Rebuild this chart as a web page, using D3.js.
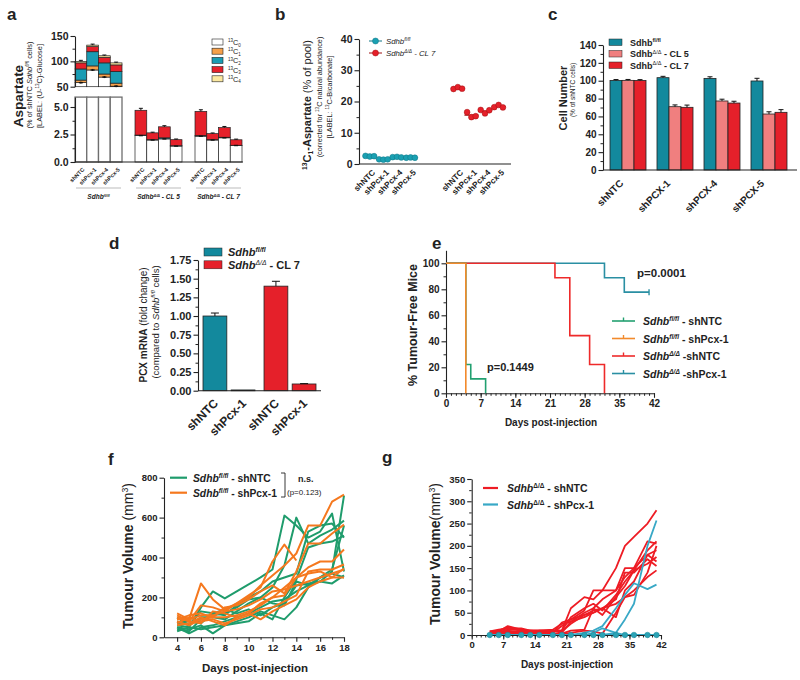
<!DOCTYPE html>
<html><head><meta charset="utf-8">
<script src="https://cdn.jsdelivr.net/npm/d3@7"></script>
<style>
body{margin:0;background:#fff;}
svg text{fill:#222;}
</style></head><body>
<svg id="fig" width="800" height="680"></svg>
<script>
// ================= DATA =================
// Panel a : Aspartate isotopologues (% of shNTC Sdhb fl/fl)
const aGroups = ["fl/fl", "CL 5", "CL 7"];
const aCats = ["shNTC", "shPcx-1", "shPcx-4", "shPcx-5"];
const aIso = ["0", "1", "2", "3", "4"];
const aBarGroup = ["fl/fl","fl/fl","fl/fl","fl/fl","CL 5","CL 5","CL 5","CL 5","CL 7","CL 7","CL 7","CL 7"];
const aBarCat = ["shNTC","shPcx-1","shPcx-4","shPcx-5","shNTC","shPcx-1","shPcx-4","shPcx-5","shNTC","shPcx-1","shPcx-4","shPcx-5"];
const aC0 = [58, 83, 69, 51, 2.40, 2.00, 2.10, 1.45, 2.35, 2.00, 2.20, 1.50];
const aC1 = [5, 8, 6, 6, 0, 0, 0, 0, 0, 0, 0, 0];
const aC2 = [22, 28, 22, 23, 0.05, 0.03, 0.10, 0.03, 0.05, 0.03, 0.05, 0.02];
const aC3 = [12, 10, 11, 13, 2.25, 0.62, 1.00, 0.55, 2.20, 0.55, 0.88, 0.50];
const aC4 = [3, 3, 3, 4, 0, 0, 0, 0, 0, 0, 0, 0];
const aErrC0 = [2, 2, 2, 2, 0.05, 0.05, 0.06, 0.05, 0.05, 0.05, 0.05, 0.05];
const aErrTop = [2, 2, 1.5, 1.5, 0.18, 0.06, 0.10, 0.06, 0.15, 0.06, 0.10, 0.06];
const aTicksUp = [50, 100, 150];
const aTicksLo = [0, 2.5, 5];

// Panel b : 13C1-Aspartate (% of pool), triplicates
const bGroups = ["fl/fl", "CL 7"];
const bCats = ["shNTC", "shPcx-1", "shPcx-4", "shPcx-5"];
const bFl = [[2.6, 2.4, 2.5], [1.5, 1.4, 1.5], [2.2, 2.3, 2.1], [2.0, 2.1, 2.0]];
const bCL7 = [[24.0, 24.6, 24.1], [16.6, 15.0, 15.3], [17.3, 16.2, 17.2], [18.2, 18.9, 18.1]];
const bTicks = [0, 10, 20, 30, 40];

// Panel c : Cell number (% of shNTC cells)
const cCats = ["shNTC", "shPCX-1", "shPCX-4", "shPCX-5"];
const cSeries = ["fl", "cl5", "cl7"];
const cFl = [100.3, 103.4, 102.6, 99.7];
const cCL5 = [100.4, 70.9, 77.3, 62.7];
const cCL7 = [100.2, 70.2, 75.0, 64.6];
const cFlErr = [1.0, 1.5, 1.8, 3.0];
const cCL5Err = [1.0, 2.0, 2.0, 2.5];
const cCL7Err = [1.0, 2.5, 2.0, 3.0];
const cTicks = [0, 20, 40, 60, 80, 100, 120, 140];

// Panel d : PCX mRNA fold change
const dGroups = ["fl/fl", "CL 7"];
const dCats = ["shNTC", "shPcx-1"];
const dFl = [1.00, 0.01];
const dCL7 = [1.40, 0.09];
const dFlErr = [0.04, 0.003];
const dCL7Err = [0.065, 0.005];
const dTicks = [0, 0.25, 0.5, 0.75, 1.0, 1.25, 1.5, 1.75];

// Panel e : % tumour-free mice (Kaplan-Meier steps)
const eFlNTCDays = [0, 4, 5, 8];
const eFlNTCPct = [100, 22.2, 11.1, 0];
const eFlPcxDays = [0, 4];
const eFlPcxPct = [100, 0];
const eDdNTCDays = [0, 22, 25, 29, 32];
const eDdNTCPct = [100, 88.9, 44.4, 22.2, 0];
const eDdPcxDays = [0, 32, 36, 41];
const eDdPcxPct = [100, 88.9, 77.8, 77.8];
const eTicksX = [0, 7, 14, 21, 28, 35, 42];
const eTicksY = [0, 20, 40, 60, 80, 100];

// Panel f : tumour volume, Sdhb fl/fl
const fDays = [4, 5, 6, 7, 8, 9, 10, 11, 12, 13, 14, 15, 16, 17, 18];
const fNTC = [
  [60, 50, 150, 230, 195, 230, 265, 300, 340, 610, 560, 500, 530, 620, 330],
  [40, 30, 90, 110, 120, 150, 190, 200, 250, 360, 600, 470, 510, 540, 585],
  [50, 40, 60, 20, 60, 80, 100, 130, 110, 90, 150, 250, 300, 340, 560],
  [80, 60, 100, 100, 90, 130, 170, 200, 170, 160, 280, 260, 280, 330, 710],
  [30, 50, 40, 50, 60, 70, 80, 120, 90, 200, 290, 450, 470, 480, 510],
  [70, 80, 70, 120, 140, 120, 140, 110, 150, 170, 260, 270, 280, 270, 310],
  [50, 20, 50, 60, 80, 100, 120, 150, 180, 190, 230, 260, 300, 320, 300],
  [100, 60, 130, 120, 110, 160, 200, 230, 280, 300, 320, 530, 560, 570, 500]
];
const fPcx = [
  [120, 90, 270, 190, 140, 170, 210, 250, 380, 465, 385, null, null, null, null],
  [100, 80, 160, 150, 130, 170, 200, 260, 310, 360, 420, 560, 560, 680, 715],
  [90, 110, 120, 100, 150, 160, 190, 230, 260, 220, 330, 470, 470, 520, 565],
  [80, 60, 90, 100, 100, 110, 130, 160, 200, 210, 300, 350, 380, 380, 440],
  [70, 100, 80, 90, 70, 90, 110, 140, 150, 180, 210, 330, 340, 340, 365],
  [110, 80, 70, 130, 120, 100, 120, 90, 130, 160, 190, 250, 280, 300, 345],
  [60, 70, 100, 80, 60, 100, 120, 170, 200, 250, 300, 320, 330, 300, 300],
  [90, 90, 110, 110, 130, 140, 160, 190, 230, 240, 260, 280, 300, 320, 340]
];
const fTicksX = [4, 6, 8, 10, 12, 14, 16, 18];
const fTicksY = [0, 200, 400, 600, 800];

// Panel g : tumour volume, Sdhb Δ/Δ
const gDays = [4, 6, 8, 11, 13, 15, 18, 20, 22, 25, 27, 29, 32, 34, 36, 39, 41];
const gNTC = [
  [5, 10, 15, 10, 8, 8, 10, 10, 60, 85, 80, 100, 150, 200, 220, 250, 280],
  [8, 8, 20, 12, 10, 10, 12, 25, 30, 50, 60, 80, 100, 150, 150, 210, 205],
  [3, 10, 18, 10, 10, 8, 5, 28, 35, 55, 100, 100, 100, 130, 150, 180, 190],
  [5, 5, 12, 12, 5, 10, 10, 10, 40, 60, 70, 55, 90, 120, 145, 160, 175],
  [0, 5, 8, 8, 8, 5, 5, 20, 35, 45, 55, 60, 80, 140, 140, 170, 155],
  [5, 8, 10, 5, 10, 10, 8, 8, 25, 45, 50, 60, 70, 85, 100, 130, 145],
  [8, 12, 15, 15, 10, 10, 10, 5, 30, 40, 50, 60, 40, 100, 120, 180, 165],
  [5, 5, 5, 3, 3, 3, 3, 2, 5, 10, 8, 3, 50, 85, 90, 140, 200],
  [0, 3, 5, 5, 5, 5, 3, 3, 10, 12, 60, 45, 85, 110, 145, 190, 210]
];
const gPcx = [
  [0, 0, 0, 0, 0, 0, 0, 0, 0, 0, 0, 0, 5, 35, 70, 200, 257],
  [0, 0, 0, 0, 0, 0, 0, 0, 0, 5, 10, 20, 60, 90, 116, 103, 113],
  [0, 0, 0, 0, 0, 0, 0, 0, 0, 0, 5, 15, 5, 0, 0, 0, 0],
  [0, 0, 0, 0, 0, 0, 0, 0, 0, 0, 0, 0, 0, 0, 0, 0, 0]
];
const gTicksX = [0, 7, 14, 21, 28, 35, 42];
const gTicksY = [0, 50, 100, 150, 200, 250, 300, 350];

// ================= DRAWING =================
const FONT = "'Liberation Sans', Arial, Helvetica, sans-serif";
const svg = d3.select("#fig").attr("font-family", FONT);
const TEAL = "#13899d", RED = "#e5202a", SALMON = "#f07f7f";

function rich(sel, parts, fs) {
  let off = 0;
  parts.forEach(p => {
    const t = p[0], st = p[1] || "";
    let target = 0, size = fs;
    if (st.includes("^")) { target = -fs * 0.38; size = fs * 0.62; }
    if (st.includes("_")) { target = fs * 0.22; size = fs * 0.62; }
    sel.append("tspan").text(t)
      .attr("dy", (target - off).toFixed(2))
      .attr("font-size", size.toFixed(2))
      .attr("font-weight", st.includes("B") ? "bold" : "normal")
      .attr("font-style", st.includes("I") ? "italic" : "normal");
    off = target;
  });
  return sel;
}
function label(g, x, y, parts, fs, anchor, rot) {
  const t = g.append("text")
    .attr("transform", `translate(${x},${y})` + (rot ? ` rotate(${rot})` : ""))
    .attr("text-anchor", anchor || "start");
  return rich(t, parts, fs);
}
function styleAxis(a, fs) {
  a.attr("font-family", FONT);
  a.selectAll("text").attr("font-size", fs).attr("font-weight", "bold").attr("fill", "#222");
  a.selectAll("line,path").attr("stroke", "#222").attr("stroke-width", 1.1);
}
function axisL(g, scale, x, major, fmt, fs, minor) {
  if (minor) {
    const m = g.append("g").attr("transform", `translate(${x},0)`)
      .call(d3.axisLeft(scale).tickValues(minor).tickFormat("").tickSize(2.5).tickSizeOuter(0));
    m.select(".domain").remove();
    m.selectAll("line").attr("stroke", "#222");
  }
  const a = g.append("g").attr("transform", `translate(${x},0)`)
    .call(d3.axisLeft(scale).tickValues(major).tickFormat(fmt).tickSize(4.5).tickSizeOuter(0).tickPadding(2));
  styleAxis(a, fs);
  return a;
}
function axisB(g, scale, y, major, fmt, fs, minor) {
  if (minor) {
    const m = g.append("g").attr("transform", `translate(0,${y})`)
      .call(d3.axisBottom(scale).tickValues(minor).tickFormat("").tickSize(2.5).tickSizeOuter(0));
    m.select(".domain").remove();
    m.selectAll("line").attr("stroke", "#222");
  }
  const a = g.append("g").attr("transform", `translate(0,${y})`)
    .call(d3.axisBottom(scale).tickValues(major).tickFormat(fmt).tickSize(4.5).tickSizeOuter(0).tickPadding(2));
  styleAxis(a, fs);
  return a;
}
function hline(g, x1, x2, y) {
  g.append("line").attr("x1", x1).attr("x2", x2).attr("y1", y).attr("y2", y)
    .attr("stroke", "#222").attr("stroke-width", 1.1);
}
function errUp(g, cx, yTop, yErr, cap) {
  g.append("line").attr("x1", cx).attr("x2", cx).attr("y1", yTop).attr("y2", yErr).attr("stroke", "#111").attr("stroke-width", 1);
  g.append("line").attr("x1", cx - cap).attr("x2", cx + cap).attr("y1", yErr).attr("y2", yErr).attr("stroke", "#111").attr("stroke-width", 1);
}

// panel letters
[["a", 7, 20], ["b", 275, 20], ["c", 548, 20], ["d", 109, 249], ["e", 432, 249], ["f", 108, 465], ["g", 382, 463]]
  .forEach(([t, x, y]) => svg.append("text").attr("x", x).attr("y", y).attr("font-size", 17).attr("font-weight", "bold").text(t));

// ---------- Panel a ----------
(function () {
  const g = svg.append("g");
  const xG = d3.scaleBand().domain(aGroups).range([75, 242]).paddingInner(13 / 60);
  const xB = d3.scaleBand().domain(aCats).range([0, xG.bandwidth()]);
  const yUp = d3.scaleLinear().domain([50, 150]).range([86.7, 36]);
  const yLo = d3.scaleLinear().domain([0, 5.9]).range([162, 97.1]);
  const segs = [aC0, aC1, aC2, aC3, aC4];
  const cols = ["#ffffff", "#f6a04a", "#1a9cb3", RED, "#fbe8a0"];
  const w = xB.bandwidth();
  aBarGroup.forEach((grp, k) => {
    const x = xG(grp) + xB(aBarCat[k]);
    let cum = 0;
    if (grp === aGroups[0]) {
      g.append("rect").attr("x", x).attr("y", yLo(5.9)).attr("width", w).attr("height", yLo(0) - yLo(5.9))
        .attr("fill", "#fff").attr("stroke", "#6e6e6e").attr("stroke-width", 1.3);
      segs.forEach((s, si) => {
        const lo = Math.max(cum, 50), hi = cum + s[k];
        cum = hi;
        if (hi > 50 && s[k] > 0)
          g.append("rect").attr("x", x).attr("y", yUp(hi)).attr("width", w).attr("height", yUp(lo) - yUp(hi))
            .attr("fill", cols[si]).attr("stroke", "#222").attr("stroke-width", 0.7);
      });
      const c0 = aC0[k];
      g.append("line").attr("x1", x + w / 2).attr("x2", x + w / 2).attr("y1", yUp(c0 - aErrC0[k])).attr("y2", yUp(c0 + aErrC0[k])).attr("stroke", "#111").attr("stroke-width", 1);
      g.append("line").attr("x1", x + w / 2 - 2).attr("x2", x + w / 2 + 2).attr("y1", yUp(c0)).attr("y2", yUp(c0)).attr("stroke", "#111").attr("stroke-width", 1.4);
      errUp(g, x + w / 2, yUp(cum), yUp(cum + aErrTop[k]), 2);
    } else {
      segs.forEach((s, si) => {
        const lo = cum, hi = cum + s[k];
        cum = hi;
        if (s[k] > 0)
          g.append("rect").attr("x", x).attr("y", yLo(hi)).attr("width", w).attr("height", yLo(lo) - yLo(hi))
            .attr("fill", cols[si]).attr("stroke", "#222").attr("stroke-width", 0.7);
      });
      const c0 = aC0[k];
      g.append("line").attr("x1", x + w / 2 - 2).attr("x2", x + w / 2 + 2).attr("y1", yLo(c0)).attr("y2", yLo(c0)).attr("stroke", "#111").attr("stroke-width", 1.4);
      errUp(g, x + w / 2, yLo(cum), yLo(cum + aErrTop[k]), 2);
    }
    label(g, x + w / 2 + 4, 170, [[aBarCat[k], "B"]], 5.6, "end", -45);
  });
  axisL(g, yUp, 75, aTicksUp, d3.format("d"), 10.5, [75, 125]);
  axisL(g, yLo, 75, aTicksLo, d3.format(".1f"), 10.5, [1.25, 3.75]);
  hline(g, 75, 243, 162);
  const gLab = [
    [["Sdhb", "BI"], ["fl/fl", "BI^"]],
    [["Sdhb", "BI"], ["Δ/Δ", "BI^"], [" - CL 5", "BI"]],
    [["Sdhb", "BI"], ["Δ/Δ", "BI^"], [" - CL 7", "BI"]]
  ];
  aGroups.forEach((grp, i) => {
    g.append("line").attr("x1", xG(grp) + 1).attr("x2", xG(grp) + xG.bandwidth() - 1).attr("y1", 188).attr("y2", 188)
      .attr("stroke", "#aaa").attr("stroke-width", 0.8);
    label(g, xG(grp) + xG.bandwidth() / 2, 199, gLab[i], 6.5, "middle");
  });
  aIso.forEach((iso, i) => {
    const y = 39 + i * 9.2;
    g.append("rect").attr("x", 212).attr("y", y).attr("width", 11).attr("height", 6)
      .attr("fill", cols[i]).attr("stroke", "#222").attr("stroke-width", 0.6);
    label(g, 228, y + 6, [["13", "^"], ["C"], [iso, "_"]], 7.3, "start");
  });
  label(g, 23, 96, [["Aspartate", "B"]], 13.5, "middle", -90);
  label(g, 32, 85, [["(% of shNTC "], ["Sdhb", "I"], ["fl/fl", "I^"], [" cells)"]], 7.4, "middle", -90);
  label(g, 42, 86, [["[LABEL: (U-"], ["13", "^"], ["C)-Glucose]"]], 7.4, "middle", -90);
})();

// ---------- Panel b ----------
(function () {
  const g = svg.append("g");
  const y = d3.scaleLinear().domain([0, 40]).range([164, 39]);
  const xG = d3.scaleBand().domain(bGroups).range([363, 505.4]).paddingInner(0.382);
  const xC = d3.scaleBand().domain(bCats).range([0, xG.bandwidth()]);
  axisL(g, y, 359, bTicks, d3.format("d"), 10.5, [5, 15, 25, 35]);
  hline(g, 359, 511, 164);
  const sets = [[bFl, "#1aa0b2", "#0f7585"], [bCL7, RED, "#a01010"]];
  sets.forEach(([reps, col, dark], gi) => {
    bCats.forEach((cat, ci) => {
      const cx = xG(bGroups[gi]) + xC(cat) + xC.bandwidth() / 2;
      const m = d3.mean(reps[ci]);
      g.append("line").attr("x1", cx - 7).attr("x2", cx + 7).attr("y1", y(m)).attr("y2", y(m)).attr("stroke", dark).attr("stroke-width", 1.2);
      reps[ci].forEach((v, j) => {
        g.append("circle").attr("cx", cx + (j - 1) * 4.3).attr("cy", y(v)).attr("r", 2.9)
          .attr("fill", col).attr("stroke", dark).attr("stroke-width", 0.5);
      });
      label(g, cx + 6, 173, [[cat, "B"]], 8.2, "end", -45);
    });
  });
  const legs = [
    [[["Sdhb", "I"], ["fl/fl", "I^"]], "#1aa0b2", "#0f7585"],
    [[["Sdhb", "I"], ["Δ/Δ", "I^"], [" - CL 7", "I"]], RED, "#a01010"]
  ];
  legs.forEach(([parts, col, dark], i) => {
    const yy = 41 + i * 12;
    g.append("line").attr("x1", 369).attr("x2", 382).attr("y1", yy).attr("y2", yy).attr("stroke", dark).attr("stroke-width", 1);
    g.append("circle").attr("cx", 375.5).attr("cy", yy).attr("r", 3).attr("fill", col).attr("stroke", dark).attr("stroke-width", 0.5);
    label(g, 386, yy + 3, parts, 7.8, "start");
  });
  label(g, 311, 105, [["13", "B^"], ["C", "B"], ["1", "B_"], ["-Aspartate", "B"], [" (% of pool)"]], 11, "middle", -90);
  label(g, 322, 97, [["(corrected for "], ["13", "^"], ["C natural abundance)"]], 7.3, "middle", -90);
  label(g, 332, 97, [["[LABEL: "], ["13", "^"], ["C-Bicarbonate]"]], 7.3, "middle", -90);
})();

// ---------- Panel c ----------
(function () {
  const g = svg.append("g");
  const y = d3.scaleLinear().domain([0, 140]).range([170, 45]);
  const xG = d3.scaleBand().domain(cCats).range([603, 794]).paddingInner(0.234).paddingOuter(0.149);
  const xS = d3.scaleBand().domain(cSeries).range([0, xG.bandwidth()]);
  const vals = [cFl, cCL5, cCL7], errs = [cFlErr, cCL5Err, cCL7Err], cols = [TEAL, SALMON, RED];
  cSeries.forEach((s, si) => {
    cCats.forEach((cat, ci) => {
      const x = xG(cat) + xS(s), w = xS.bandwidth(), v = vals[si][ci];
      g.append("rect").attr("x", x).attr("y", y(v)).attr("width", w).attr("height", y(0) - y(v))
        .attr("fill", cols[si]).attr("stroke", "#222").attr("stroke-width", 0.8);
      errUp(g, x + w / 2, y(v), y(v + errs[si][ci]), 2.5);
    });
  });
  axisL(g, y, 603, cTicks, d3.format("d"), 10, d3.range(10, 140, 20));
  hline(g, 603, 797, 170);
  cCats.forEach(cat => label(g, xG(cat) + xG.bandwidth() / 2 - 4, 184, [[cat, "B"]], 10, "end", -45));
  const legs = [
    [["Sdhb", "B"], ["fl/fl", "B^"]],
    [["Sdhb", "B"], ["Δ/Δ", "^"], [" - CL 5", "B"]],
    [["Sdhb", "B"], ["Δ/Δ", "^"], [" - CL 7", "B"]]
  ];
  legs.forEach((parts, i) => {
    const yy = 39 + i * 11.5;
    g.append("rect").attr("x", 609).attr("y", yy).attr("width", 13).attr("height", 6.5).attr("fill", cols[i]).attr("stroke", "#222").attr("stroke-width", 0.5);
    label(g, 630, yy + 6.5, parts, 9, "start");
  });
  label(g, 567, 98, [["Cell Number", "B"]], 11, "middle", -90);
  label(g, 575, 90, [["(% of shNTC cells)"]], 6.5, "middle", -90);
})();

// ---------- Panel d ----------
(function () {
  const g = svg.append("g");
  const y = d3.scaleLinear().domain([0, 1.75]).range([390.7, 260]);
  const xG = d3.scaleBand().domain(dGroups).range([198, 321]).paddingInner(0.148).paddingOuter(0.082);
  const xB = d3.scaleBand().domain(dCats).range([0, xG.bandwidth()]).paddingInner(0.154);
  const vals = [dFl, dCL7], errs = [dFlErr, dCL7Err], cols = [TEAL, RED];
  dGroups.forEach((grp, gi) => {
    dCats.forEach((cat, ci) => {
      const x = xG(grp) + xB(cat), w = xB.bandwidth(), v = vals[gi][ci];
      g.append("rect").attr("x", x).attr("y", y(v)).attr("width", w).attr("height", Math.max(y(0) - y(v), 0.8))
        .attr("fill", cols[gi]).attr("stroke", "#222").attr("stroke-width", 0.8);
      if (v > 0.05) errUp(g, x + w / 2, y(v), y(v + errs[gi][ci]), 4);
      label(g, x + w / 2 + 4, 404, [[cat, "B"]], 12, "end", -45);
    });
  });
  axisL(g, y, 198, dTicks, d3.format(".2f"), 11, d3.range(0.125, 1.75, 0.25));
  hline(g, 198, 321, 390.7);
  const legs = [
    [["Sdhb", "BI"], ["fl/fl", "BI^"]],
    [["Sdhb", "BI"], ["Δ/Δ", "I^"], [" - CL 7", "B"]]
  ];
  legs.forEach((parts, i) => {
    const yy = 248 + i * 12.8;
    g.append("rect").attr("x", 204).attr("y", yy).attr("width", 18).attr("height", 8).attr("fill", cols[i]).attr("stroke", "#222").attr("stroke-width", 0.5);
    label(g, 228, yy + 8, parts, 11, "start");
  });
  label(g, 147, 325, [["PCX mRNA", "B"], [" (fold change)"]], 10, "middle", -90);
  label(g, 159, 322, [["(compared to "], ["Sdhb", "I"], ["fl/fl", "I^"], [" cells)"]], 9.5, "middle", -90);
})();

// ---------- Panel e ----------
(function () {
  const g = svg.append("g");
  const x = d3.scaleLinear().domain([0, 42]).range([446, 654]);
  const y = d3.scaleLinear().domain([0, 110]).range([393.3, 250.3]);
  axisB(g, x, 393.3, eTicksX, d3.format("d"), 10, d3.range(0, 43, 1));
  axisL(g, y, 446, eTicksY, d3.format("d"), 10, d3.range(10, 110, 20));
  const line = d3.line().x(d => x(d[0])).y(d => y(d[1])).curve(d3.curveStepAfter);
  const series = [
    [eDdPcxDays, eDdPcxPct, "#2a8fa3"],
    [eDdNTCDays, eDdNTCPct, "#ee2a2a"],
    [eFlNTCDays, eFlNTCPct, "#22a070"],
    [eFlPcxDays, eFlPcxPct, "#f28a2c"]
  ];
  series.forEach(([days, pct, col]) => {
    const pts = days.map((d, i) => [d, pct[i]]);
    g.append("path").attr("d", line(pts)).attr("fill", "none").attr("stroke", col).attr("stroke-width", 1.6);
  });
  const lastD = eDdPcxDays[eDdPcxDays.length - 1], lastP = eDdPcxPct[eDdPcxPct.length - 1];
  g.append("line").attr("x1", x(lastD)).attr("x2", x(lastD)).attr("y1", y(lastP) - 3).attr("y2", y(lastP) + 3).attr("stroke", "#2a8fa3").attr("stroke-width", 1.4);
  label(g, 637, 277, [["p=0.0001", "B"]], 11.5, "start");
  label(g, 487, 371, [["p=0.1449", "B"]], 11, "start");
  const legs = [
    [[["Sdhb", "BI"], ["fl/fl", "BI^"], [" - shNTC", "B"]], "#22a070"],
    [[["Sdhb", "BI"], ["fl/fl", "BI^"], [" - shPcx-1", "B"]], "#f28a2c"],
    [[["Sdhb", "BI"], ["Δ/Δ", "BI^"], [" -shNTC", "B"]], "#ee2a2a"],
    [[["Sdhb", "BI"], ["Δ/Δ", "BI^"], [" -shPcx-1", "B"]], "#2a8fa3"]
  ];
  legs.forEach(([parts, col], i) => {
    const yy = 321 + i * 17.5;
    g.append("line").attr("x1", 612).attr("x2", 635).attr("y1", yy).attr("y2", yy).attr("stroke", col).attr("stroke-width", 1.6);
    g.append("line").attr("x1", 623.5).attr("x2", 623.5).attr("y1", yy - 3.5).attr("y2", yy).attr("stroke", col).attr("stroke-width", 1.4);
    label(g, 643, yy + 4, parts, 10.5, "start");
  });
  label(g, 417, 325, [["% Tumour-Free Mice", "B"]], 12.5, "middle", -90);
  label(g, 551, 426, [["Days post-injection", "B"]], 10, "middle");
})();

// ---------- Panel f ----------
(function () {
  const g = svg.append("g");
  const x = d3.scaleLinear().domain([2.9, 18]).range([164, 344]);
  const y = d3.scaleLinear().domain([0, 800]).range([637.3, 477.7]);
  const line = d3.line().defined(d => d[1] != null).x(d => x(d[0])).y(d => y(d[1]));
  const draw = (arr, col) => arr.forEach(vals => {
    g.append("path").attr("d", line(fDays.map((d, i) => [d, vals[i]])))
      .attr("fill", "none").attr("stroke", col).attr("stroke-width", 2).attr("stroke-linejoin", "round");
  });
  draw(fNTC, "#1f9c6c");
  draw(fPcx, "#f5781e");
  axisB(g, x, 637.3, fTicksX, d3.format("d"), 9.5, d3.range(5, 18, 2));
  axisL(g, y, 164, fTicksY, d3.format("d"), 9.5, [100, 300, 500, 700]);
  const legs = [
    [[["Sdhb", "BI"], ["fl/fl", "BI^"], [" - shNTC", "B"]], "#1f9c6c"],
    [[["Sdhb", "BI"], ["fl/fl", "BI^"], [" - shPcx-1", "B"]], "#f5781e"]
  ];
  legs.forEach(([parts, col], i) => {
    const yy = 477.7 + i * 15;
    g.append("line").attr("x1", 170).attr("x2", 187).attr("y1", yy).attr("y2", yy).attr("stroke", col).attr("stroke-width", 2.2);
    label(g, 193, yy + 4, parts, 10.3, "start");
  });
  g.append("path").attr("d", "M281,473 H285 V497 H281").attr("fill", "none").attr("stroke", "#222").attr("stroke-width", 0.9);
  label(g, 298, 482, [["n.s.", "B"]], 9, "start");
  label(g, 287, 495, [["(p=0.123)"]], 8, "start");
  label(g, 133, 556, [["Tumour Volume", "B"], [" (mm"], ["3", "^"], [")"]], 14, "middle", -90);
  label(g, 255, 672, [["Days post-injection", "B"]], 11.5, "middle");
})();

// ---------- Panel g ----------
(function () {
  const g = svg.append("g");
  const x = d3.scaleLinear().domain([0, 42]).range([471.7, 661]);
  const y = d3.scaleLinear().domain([0, 350]).range([635, 479]);
  const line = d3.line().x(d => x(d[0])).y(d => y(d[1]));
  gNTC.forEach(vals => g.append("path").attr("d", line(gDays.map((d, i) => [d, vals[i]])))
    .attr("fill", "none").attr("stroke", "#ee1c24").attr("stroke-width", 1.8).attr("stroke-linejoin", "round"));
  gPcx.forEach(vals => g.append("path").attr("d", line(gDays.map((d, i) => [d, vals[i]])))
    .attr("fill", "none").attr("stroke", "#38a8c6").attr("stroke-width", 1.8).attr("stroke-linejoin", "round"));
  axisB(g, x, 635, gTicksX, d3.format("d"), 9.5, d3.range(0, 43, 1));
  axisL(g, y, 471.7, gTicksY, d3.format("d"), 9.5, d3.range(25, 350, 50));
  gDays.forEach((d, i) => {
    if (gPcx[gPcx.length - 1][i] === 0)
      g.append("circle").attr("cx", x(d)).attr("cy", y(0)).attr("r", 2.8).attr("fill", "#2aa3b5").attr("stroke", "#1a8898").attr("stroke-width", 0.5);
  });
  const legs = [
    [[["Sdhb", "BI"], ["Δ/Δ", "B^"], [" - shNTC", "B"]], "#ee1c24"],
    [[["Sdhb", "BI"], ["Δ/Δ", "B^"], [" - shPcx-1", "B"]], "#38a8c6"]
  ];
  legs.forEach(([parts, col], i) => {
    const yy = 488 + i * 16.5;
    g.append("line").attr("x1", 483).attr("x2", 498).attr("y1", yy).attr("y2", yy).attr("stroke", col).attr("stroke-width", 2.2);
    label(g, 507, yy + 4, parts, 10.5, "start");
  });
  label(g, 440, 554, [["Tumour Volume", "B"], ["(mm"], ["3", "^"], [")"]], 14, "middle", -90);
  label(g, 567, 668, [["Days post-injection", "B"]], 10, "middle");
})();
</script>
</body></html>
